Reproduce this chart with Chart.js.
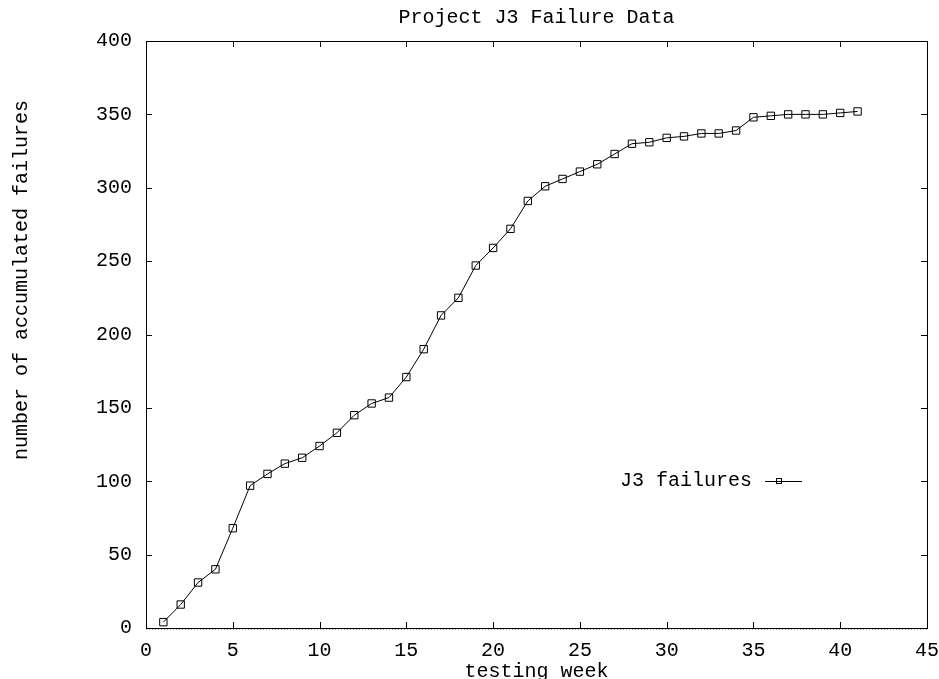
<!DOCTYPE html>
<html>
<head>
<meta charset="utf-8">
<title>Project J3 Failure Data</title>
<script src="https://cdn.jsdelivr.net/npm/chart.js@4/dist/chart.umd.min.js"></script>
<style>
  html, body { margin: 0; padding: 0; background: #fff; }
  #wrap { width: 939px; height: 679px; }
</style>
</head>
<body>
<div id="wrap"><canvas id="chartCanvas" width="939" height="679"></canvas></div>
<script>
const weeks = [1, 2, 3, 4, 5, 6, 7, 8, 9, 10, 11, 12, 13, 14, 15, 16, 17, 18, 19, 20,
  21, 22, 23, 24, 25, 26, 27, 28, 29, 30, 31, 32, 33, 34, 35, 36, 37, 38, 39, 40, 41];
const failures = [4, 16, 31, 40, 68, 97, 105, 112, 116, 124, 133, 145, 153, 157, 171, 190, 213, 225, 247, 259,
  272, 291, 301, 306, 311, 316, 323, 330, 331, 334, 335, 337, 337, 339, 348, 349, 350, 350, 350, 351, 352];
const xTicks = [0, 5, 10, 15, 20, 25, 30, 35, 40, 45];
const yTicks = [0, 50, 100, 150, 200, 250, 300, 350, 400];
const yTitle = "number of accumulated failures";

const fontName = '"Liberation Mono", "Courier New", monospace';
const tickLen = 6;

// frame, inward ticks on all four sides, dotted zero axis
const framePlugin = {
  id: "frame",
  beforeDatasetsDraw(chart) {
    const ctx = chart.ctx;
    const a = chart.chartArea;
    const xs = chart.scales.x;
    const ys = chart.scales.y;
    ctx.save();
    ctx.strokeStyle = "#000";
    ctx.lineWidth = 1;
    ctx.beginPath();
    xTicks.forEach(v => {
      const px = Math.round(xs.getPixelForValue(v)) + 0.5;
      ctx.moveTo(px, a.bottom); ctx.lineTo(px, a.bottom - tickLen);
      ctx.moveTo(px, a.top); ctx.lineTo(px, a.top + tickLen);
    });
    yTicks.forEach(v => {
      const py = Math.round(ys.getPixelForValue(v)) + 0.5;
      ctx.moveTo(a.left, py); ctx.lineTo(a.left + tickLen, py);
      ctx.moveTo(a.right, py); ctx.lineTo(a.right - tickLen, py);
    });
    ctx.stroke();
    ctx.strokeRect(Math.round(a.left) + 0.5, Math.round(a.top) + 0.5,
      Math.round(a.right - a.left), Math.round(a.bottom - a.top));
    // zero axis, dotted
    const y0 = Math.round(ys.getPixelForValue(0)) + 0.5;
    ctx.strokeStyle = "#999";
    ctx.setLineDash([1, 2]);
    ctx.beginPath();
    ctx.moveTo(a.left, y0 + 1); ctx.lineTo(a.right, y0 + 1);
    ctx.stroke();
    ctx.restore();
  },
  afterDraw(chart) {
    const ctx = chart.ctx;
    const a = chart.chartArea;
    const ds = chart.data.datasets[0];
    ctx.save();
    ctx.font = "20px " + fontName;
    ctx.fillStyle = "#000";

    // y axis title, sits a bit above the middle like gnuplot puts it
    ctx.save();
    ctx.translate(22, a.top + 239);
    ctx.rotate(-Math.PI / 2);
    ctx.textAlign = "center";
    ctx.textBaseline = "middle";
    ctx.fillText(yTitle, 0, 0);
    ctx.restore();

    // key, placed inside the plot
    const tx = a.right - 175;
    const ty = a.top + 440;
    ctx.textAlign = "right";
    ctx.textBaseline = "middle";
    ctx.fillText(ds.label, tx, ty);
    ctx.strokeStyle = "#000";
    ctx.lineWidth = 1;
    ctx.beginPath();
    ctx.moveTo(tx + 13, Math.round(ty) + 0.5);
    ctx.lineTo(tx + 50, Math.round(ty) + 0.5);
    ctx.stroke();
    ctx.strokeRect(Math.round(tx + 24) + 0.5, Math.round(ty) - 2.5, 5, 5);
    ctx.restore();
  }
};

const ctx = document.getElementById("chartCanvas").getContext("2d");
const myChart = new Chart(ctx, {
  type: "line",
  data: {
    datasets: [{
      label: "J3 failures",
      data: weeks.map((w, i) => ({ x: w, y: failures[i] })),
      borderColor: "#000",
      borderWidth: 1,
      backgroundColor: "transparent",
      pointStyle: "rect",
      pointRadius: 5.2,
      pointBorderColor: "#000",
      pointBorderWidth: 1,
      pointBackgroundColor: "transparent",
      tension: 0,
      fill: false
    }]
  },
  options: {
    responsive: false,
    animation: false,
    layout: { padding: { left: 0, right: 12, top: 0, bottom: 0 } },
    plugins: {
      legend: { display: false },
      tooltip: { enabled: false },
      title: {
        display: true,
        text: "Project J3 Failure Data",
        fullSize: false,
        color: "#000",
        font: { family: fontName, size: 20, weight: "normal", lineHeight: 1.2 },
        padding: { top: 6, bottom: 11 }
      }
    },
    scales: {
      x: {
        type: "linear",
        min: 0,
        max: 45,
        afterBuildTicks: s => { s.ticks = xTicks.map(v => ({ value: v })); },
        afterFit: s => { s.height = 51; s.paddingLeft = 0; s.paddingRight = 0; },
        grid: { display: false, drawTicks: false },
        border: { display: false },
        ticks: {
          autoSkip: false,
          maxRotation: 0,
          padding: 11,
          color: "#000",
          font: { family: fontName, size: 20 }
        },
        title: {
          display: true,
          text: "testing week",
          color: "#000",
          padding: 0,
          font: { family: fontName, size: 20, lineHeight: 0.75 }
        }
      },
      y: {
        min: 0,
        max: 400,
        afterBuildTicks: s => { s.ticks = yTicks.map(v => ({ value: v })); },
        afterFit: s => { s.width = 146; s.paddingTop = 0; s.paddingBottom = 0; },
        grid: { display: false, drawTicks: false },
        border: { display: false },
        ticks: {
          padding: 14,
          color: "#000",
          font: { family: fontName, size: 20 }
        },
        title: { display: false }
      }
    }
  },
  plugins: [framePlugin]
});
</script>
</body>
</html>
